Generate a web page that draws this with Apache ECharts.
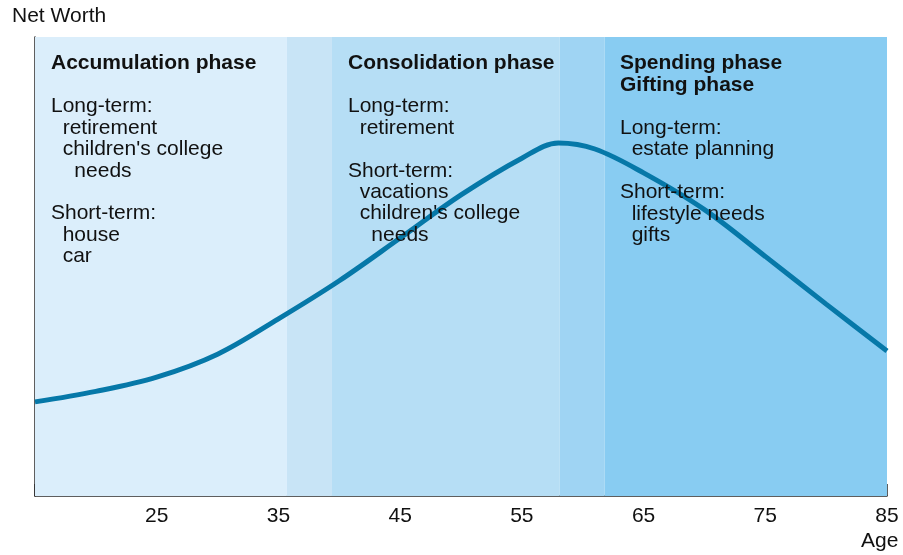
<!DOCTYPE html>
<html>
<head>
<meta charset="utf-8">
<script src="https://cdn.jsdelivr.net/npm/echarts@6/dist/echarts.min.js"></script>
<style>
  html, body { margin: 0; padding: 0; background: #fff; }
  #chart { width: 903px; height: 555px; }
</style>
</head>
<body>
<div id="chart"></div>
<script>
// ages and net worth (arbitrary units, 0-100 across the plot height)
const ages = [15, 20, 25, 30, 35, 40, 45, 50, 55, 58, 61, 65, 70, 75, 80, 85];
const netWorth = [20.5, 22.8, 25.9, 30.9, 38.6, 46.9, 56.2, 65.6, 73.6, 76.9, 75.6, 70.4, 62.4, 52.2, 41.8, 31.6];

// phase bands along the age axis
const bandStarts = [15, 35.7, 39.4, 58.1, 61.8];
const bandEnds = [35.7, 39.4, 58.1, 61.8, 85];
const bandColors = ['#dbeefb', '#c8e4f6', '#b6def5', '#9fd4f3', '#88ccf2'];

const tickLabels = ['25', '35', '45', '55', '65', '75', '85'];

// phase texts
const headings = ['Accumulation phase', 'Consolidation phase', 'Spending phase\nGifting phase'];
const accumulationLines = ['Long-term:', '  retirement', "  children's college", '    needs', '', 'Short-term:', '  house', '  car'];
const consolidationLines = ['Long-term:', '  retirement', '', 'Short-term:', '  vacations', "  children's college", '    needs'];
const spendingLines = ['Long-term:', '  estate planning', '', 'Short-term:', '  lifestyle needs', '  gifts'];

const FONT = '"Liberation Sans", Arial, Helvetica, sans-serif';

const chart = echarts.init(document.getElementById('chart'), null, { renderer: 'canvas' });

const bandData = bandStarts.map((s, i) => [
    { xAxis: s, itemStyle: { color: bandColors[i] } },
    { xAxis: bandEnds[i] }
]);

function textEl(txt, x, y, bold) {
    return {
        type: 'text',
        z: 100,
        silent: true,
        style: {
            text: txt,
            x: x,
            y: y,
            fill: '#111',
            font: (bold ? 'bold ' : '') + '21px ' + FONT,
            lineHeight: 21.4,
            textVerticalAlign: 'top'
        }
    };
}

const option = {
    animation: false,
    grid: {
        left: 35,
        right: 16,
        top: 37,
        bottom: 59
    },
    xAxis: {
        type: 'value',
        min: 15,
        max: 85,
        interval: 10,
        axisLine: { show: true, lineStyle: { color: '#2a2a2a', width: 1.5 } },
        axisTick: { show: true, inside: true, length: 12, lineStyle: { color: '#2a2a2a', width: 1.5 } },
        axisLabel: {
            margin: 10,
            color: '#111',
            fontSize: 21,
            fontFamily: FONT,
            formatter: function (v) {
                const s = String(v);
                return tickLabels.indexOf(s) >= 0 ? s : '';
            }
        },
        splitLine: { show: false }
    },
    yAxis: {
        type: 'value',
        min: 0,
        max: 100,
        axisLine: { show: true, lineStyle: { color: '#2a2a2a', width: 1.5 } },
        axisTick: { show: false },
        axisLabel: { show: false },
        splitLine: { show: false }
    },
    graphic: [
        textEl('Net Worth', 12, 6, false),
        textEl('Age', 861, 531, false),
        textEl(headings[0], 51, 53, true),
        textEl(accumulationLines.join('\n'), 51, 96, false),
        textEl(headings[1], 348, 53, true),
        textEl(consolidationLines.join('\n'), 348, 96, false),
        textEl(headings[2], 620, 53, true),
        textEl(spendingLines.join('\n'), 620, 117.5, false)
    ],
    series: [
        {
            type: 'line',
            data: [],
            silent: true,
            markArea: {
                silent: true,
                data: bandData
            }
        },
        {
            type: 'line',
            data: ages.map((a, i) => [a, netWorth[i]]),
            smooth: 0.35,
            showSymbol: false,
            silent: true,
            lineStyle: { color: '#0678a8', width: 5 }
        }
    ]
};

chart.setOption(option);
</script>
</body>
</html>
